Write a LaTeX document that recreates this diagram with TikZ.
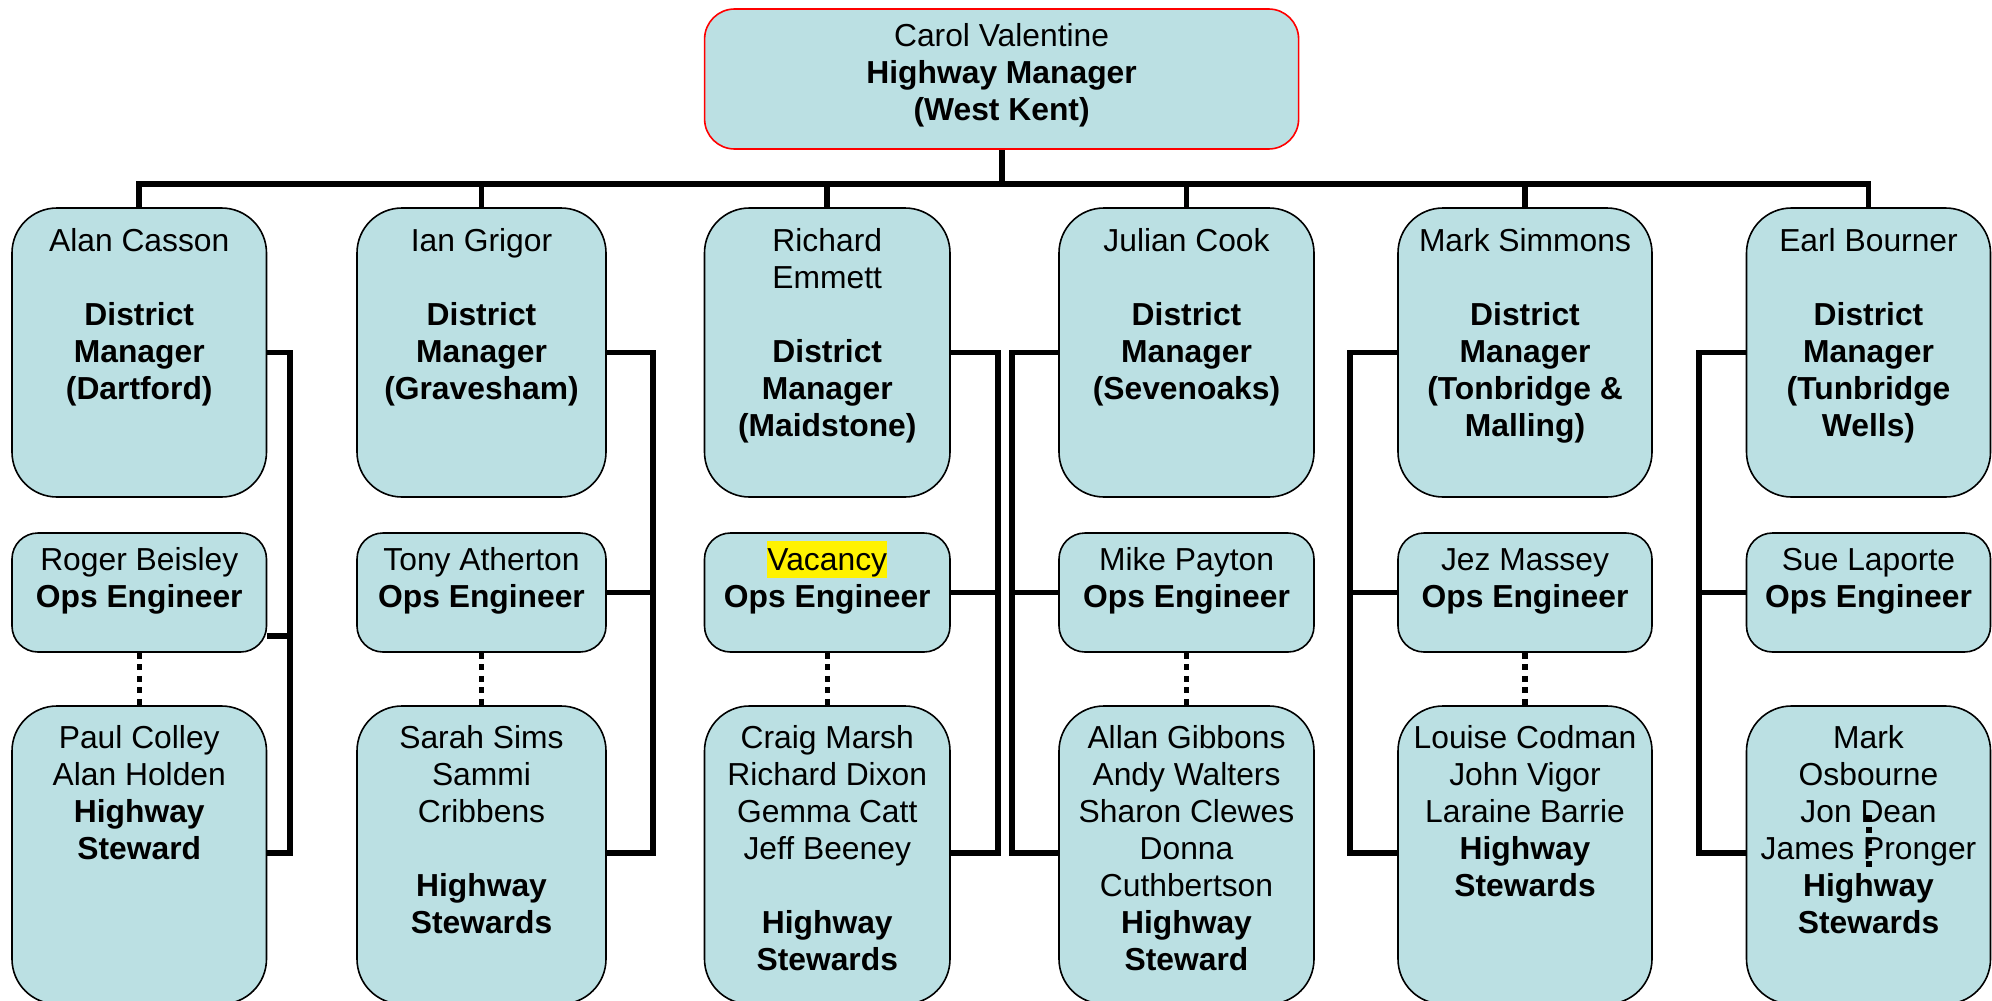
\documentclass[tikz,border=0pt]{standalone}
\usepackage{fontspec}
\setmainfont{Liberation Sans}
\usetikzlibrary{calc}
\definecolor{boxfill}{RGB}{187,224,227}
\newcommand{\fstrut}{\rule[-7pt]{0pt}{37pt}}
\begin{document}
\begin{tikzpicture}[x=1pt,y=-1pt,
  box/.style={draw=black, line width=1.6pt, fill=boxfill, inner sep=0pt},
  dbox/.style={box, rounded corners=45pt},
  obox/.style={box, rounded corners=26pt},
  topbox/.style={box, draw=red, rounded corners=30pt},
  txt/.style={anchor=north, align=center, inner sep=0pt, font=\fontsize{31.8}{36.95}\selectfont},
  conn/.style={line width=5.8pt, line join=miter},
  dots/.style={line width=5.2pt, dash pattern=on 6pt off 5.5pt}]
\useasboundingbox (0,0) rectangle (1992,1001);
\fill[white] (0,0) rectangle (1992,1001);

% top box
\node[topbox, minimum width=594pt, minimum height=140pt] (carol) at (1001.6,79) {};
\node[txt] (carolt) at (1001.6,16.5) {\fstrut Carol Valentine\\\textbf{Highway Manager}\\\textbf{(West Kent)}};

% district boxes
\node[dbox, minimum width=254.5pt, minimum height=289pt] (d1) at (139.25,352.5) {};
\node[dbox, minimum width=249pt, minimum height=289pt] (d2) at (481.5,352.5) {};
\node[dbox, minimum width=245.5pt, minimum height=289pt] (d3) at (827.25,352.5) {};
\node[dbox, minimum width=255pt, minimum height=289pt] (d4) at (1186.5,352.5) {};
\node[dbox, minimum width=254pt, minimum height=289pt] (d5) at (1525,352.5) {};
\node[dbox, minimum width=244pt, minimum height=289pt] (d6) at (1868.5,352.5) {};

\node[txt] (d1t) at (139.25,221.5) {\fstrut Alan Casson\\[36.95pt]\textbf{District}\\\textbf{Manager}\\\textbf{(Dartford)}};
\node[txt] (d2t) at (481.5,221.5) {\fstrut Ian Grigor\\[36.95pt]\textbf{District}\\\textbf{Manager}\\\textbf{(Gravesham)}};
\node[txt] (d3t) at (827.25,221.5) {\fstrut Richard\\Emmett\\[36.95pt]\textbf{District}\\\textbf{Manager}\\\textbf{(Maidstone)}};
\node[txt] (d4t) at (1186.5,221.5) {\fstrut Julian Cook\\[36.95pt]\textbf{District}\\\textbf{Manager}\\\textbf{(Sevenoaks)}};
\node[txt] (d5t) at (1525,221.5) {\fstrut Mark Simmons\\[36.95pt]\textbf{District}\\\textbf{Manager}\\\textbf{(Tonbridge \&}\\\textbf{Malling)}};
\node[txt] (d6t) at (1868.5,221.5) {\fstrut Earl Bourner\\[36.95pt]\textbf{District}\\\textbf{Manager}\\\textbf{(Tunbridge}\\\textbf{Wells)}};

% ops boxes
\node[obox, minimum width=254.5pt, minimum height=119pt] (o1) at (139.25,592.5) {};
\node[obox, minimum width=249pt, minimum height=119pt] (o2) at (481.5,592.5) {};
\node[obox, minimum width=245.5pt, minimum height=119pt] (o3) at (827.25,592.5) {};
\node[obox, minimum width=255pt, minimum height=119pt] (o4) at (1186.5,592.5) {};
\node[obox, minimum width=254pt, minimum height=119pt] (o5) at (1525,592.5) {};
\node[obox, minimum width=244pt, minimum height=119pt] (o6) at (1868.5,592.5) {};

\node[txt] (o1t) at (139.25,540.5) {\fstrut Roger Beisley\\\textbf{Ops Engineer}};
\node[txt] (o2t) at (481.5,540.5) {\fstrut Tony Atherton\\\textbf{Ops Engineer}};
\node[txt] (o3t) at (827.25,540.5) {{\setlength{\fboxsep}{0pt}\colorbox{yellow}{\fstrut Vacancy}}\\\textbf{Ops Engineer}};
\node[txt] (o4t) at (1186.5,540.5) {\fstrut Mike Payton\\\textbf{Ops Engineer}};
\node[txt] (o5t) at (1525,540.5) {\fstrut Jez Massey\\\textbf{Ops Engineer}};
\node[txt] (o6t) at (1868.5,540.5) {\fstrut Sue Laporte\\\textbf{Ops Engineer}};

% steward boxes
\node[dbox, minimum width=254.5pt, minimum height=298pt] (s1) at (139.25,855) {};
\node[dbox, minimum width=249pt, minimum height=298pt] (s2) at (481.5,855) {};
\node[dbox, minimum width=245.5pt, minimum height=298pt] (s3) at (827.25,855) {};
\node[dbox, minimum width=255pt, minimum height=298pt] (s4) at (1186.5,855) {};
\node[dbox, minimum width=254pt, minimum height=298pt] (s5) at (1525,855) {};
\node[dbox, minimum width=244pt, minimum height=298pt] (s6) at (1868.5,855) {};

\node[txt] (s1t) at (139.25,718.5) {\fstrut Paul Colley\\Alan Holden\\\textbf{Highway}\\\textbf{Steward}};
\node[txt] (s2t) at (481.5,718.5) {\fstrut Sarah Sims\\Sammi\\Cribbens\\[36.95pt]\textbf{Highway}\\\textbf{Stewards}};
\node[txt] (s3t) at (827.25,718.5) {\fstrut Craig Marsh\\Richard Dixon\\Gemma Catt\\Jeff Beeney\\[36.95pt]\textbf{Highway}\\\textbf{Stewards}};
\node[txt] (s4t) at (1186.5,718.5) {\fstrut Allan Gibbons\\Andy Walters\\Sharon Clewes\\Donna\\Cuthbertson\\\textbf{Highway}\\\textbf{Steward}};
\node[txt] (s5t) at (1525,718.5) {\fstrut Louise Codman\\John Vigor\\Laraine Barrie\\\textbf{Highway}\\\textbf{Stewards}};
\node[txt] (s6t) at (1868.5,718.5) {\fstrut Mark\\Osbourne\\Jon Dean\\James Pronger\\\textbf{Highway}\\\textbf{Stewards}};

% coordinates
\coordinate (bus) at (0,184);
\coordinate (ys) at (0,853);
\coordinate (yo1) at (0,636);
\coordinate (v1) at (290,0);
\coordinate (v2) at (653,0);
\coordinate (v3) at (998,0);
\coordinate (v4) at (1011.6,0);
\coordinate (v5) at (1350,0);
\coordinate (v6) at (1699,0);
\coordinate (dA) at (1869,815);
\coordinate (dB) at (1869,867);

% top connectors
\draw[conn] (carol.south) -- (carol.south |- bus);
\draw[conn] (d1.north) -- (d1.north |- bus) -- (d6.north |- bus) -- (d6.north);
\foreach \i in {2,3,4,5} { \draw[conn] (d\i.north) -- (d\i.north |- bus); }

% right-side connectors
\draw[conn] (d1.east) -- (d1.east -| v1) -- (v1 |- ys) -- (s1.east |- ys);
\draw[conn] (o1.east |- yo1) -- (v1 |- yo1);
\draw[conn] (d2.east) -- (d2.east -| v2) -- (v2 |- ys) -- (s2.east |- ys);
\draw[conn] (o2.east) -- (o2.east -| v2);
\draw[conn] (d3.east) -- (d3.east -| v3) -- (v3 |- ys) -- (s3.east |- ys);
\draw[conn] (o3.east) -- (o3.east -| v3);

% left-side connectors
\draw[conn] (d4.west) -- (d4.west -| v4) -- (v4 |- ys) -- (s4.west |- ys);
\draw[conn] (o4.west) -- (o4.west -| v4);
\draw[conn] (d5.west) -- (d5.west -| v5) -- (v5 |- ys) -- (s5.west |- ys);
\draw[conn] (o5.west) -- (o5.west -| v5);
\draw[conn] (d6.west) -- (d6.west -| v6) -- (v6 |- ys) -- (s6.west |- ys);
\draw[conn] (o6.west) -- (o6.west -| v6);

% dotted links
\foreach \i in {1,2,3,4,5} { \draw[dots] (o\i.south) -- (s\i.north); }
\draw[dots] (dA) -- (dB);
\end{tikzpicture}
\end{document}
